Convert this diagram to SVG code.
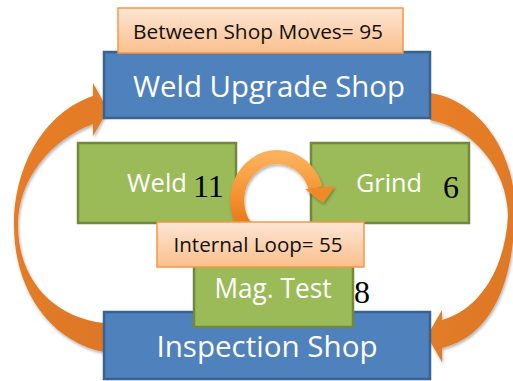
<svg xmlns="http://www.w3.org/2000/svg" width="513" height="381" viewBox="0 0 513 381">
<style>
.blue{fill:#4f81bd;stroke:#3a6290;stroke-width:2.5}
.green{fill:#9bbb59;stroke:#71893f;stroke-width:2.5}
.peach{fill:url(#peach);stroke:#f79646;stroke-width:1.5}
.wt{font-family:"Open Sans","Liberation Sans",sans-serif;fill:#ffffff}
.bt{font-family:"Open Sans","Liberation Sans",sans-serif;fill:#111111;font-size:20px}
.num{font-family:"Liberation Serif","Times New Roman",serif;fill:#000000;font-size:32px}
.arc{fill:url(#org)}
</style>
<defs>
<linearGradient id="peach" x1="0" y1="0" x2="0" y2="1">
<stop offset="0" stop-color="#fde6d4"/>
<stop offset="1" stop-color="#fbbf8c"/>
</linearGradient>
<linearGradient id="org" x1="0" y1="0" x2="1" y2="1">
<stop offset="0" stop-color="#e97f26"/>
<stop offset="1" stop-color="#dc7726"/>
</linearGradient>
<linearGradient id="ring" x1="0" y1="0" x2="0" y2="1">
<stop offset="0" stop-color="#fbb05a"/>
<stop offset="0.5" stop-color="#f5912e"/>
<stop offset="1" stop-color="#e06d12"/>
</linearGradient>
<filter id="sh" x="-10%" y="-10%" width="120%" height="130%">
<feDropShadow dx="1" dy="2" stdDeviation="1.5" flood-color="#000" flood-opacity="0.3"/>
</filter>
</defs>
<g id="connectors">
<path class="arc" filter="url(#sh)" d="M104,352 C52,342 14,292 14,225 C14,165 45,112 93,96 L93,83 L108,110 L93,136 L93,124 C50,140 18,180 18,225 C18,282 56,318 104,323 Z"/>
<path class="arc" filter="url(#sh)" d="M430,93 C478,100 515,150 515,210 C514,282 492,336 442,348 L442,362 L427,336 L442,310 L442,320 C484,308 506,262 508,215 C507,170 474,128 430,120 Z"/>
</g>
<g id="inspection-shop">
<rect class="blue" x="104" y="312" width="326" height="67"/>
<text class="wt" x="267" y="357" font-size="29" text-anchor="middle" textLength="221" lengthAdjust="spacingAndGlyphs">Inspection Shop</text>
</g>
<g id="weld-upgrade-shop">
<rect class="blue" x="104" y="52" width="326" height="66"/>
<text class="wt" x="269" y="97" font-size="29" text-anchor="middle" textLength="272" lengthAdjust="spacingAndGlyphs">Weld Upgrade Shop</text>
</g>
<g id="between-shop-moves">
<rect class="peach" x="118" y="8" width="285" height="45"/>
<text class="bt" x="258" y="39" text-anchor="middle" textLength="250" lengthAdjust="spacingAndGlyphs">Between Shop Moves= 95</text>
</g>
<g id="weld">
<rect class="green" x="78" y="143" width="158" height="80"/>
<text class="wt" x="157" y="192" font-size="25" text-anchor="middle" textLength="60" lengthAdjust="spacingAndGlyphs">Weld</text>
<text class="num" x="193" y="197">11</text>
</g>
<g id="grind">
<rect class="green" x="311" y="143" width="158" height="80"/>
<text class="wt" x="389" y="192" font-size="25" text-anchor="middle" textLength="66" lengthAdjust="spacingAndGlyphs">Grind</text>
<text class="num" x="443" y="198">6</text>
</g>
<g id="internal-loop-arrow">
<path d="M254,236 A40,43.5 0 1 1 315.5,188" fill="none" stroke="url(#ring)" stroke-width="14" filter="url(#sh)"/>
<path d="M305,189 L335,186 L323,203 Z" fill="#f08a26" filter="url(#sh)"/>
</g>
<g id="mag-test">
<rect class="green" x="194" y="262" width="159" height="65"/>
<text class="wt" x="273" y="298" font-size="28" text-anchor="middle" textLength="117" lengthAdjust="spacingAndGlyphs">Mag. Test</text>
<text class="num" x="354" y="303">8</text>
</g>
<g id="internal-loop">
<rect class="peach" x="157" y="222" width="207" height="45"/>
<text class="bt" x="258" y="252" text-anchor="middle" textLength="169" lengthAdjust="spacingAndGlyphs">Internal Loop= 55</text>
</g>
</svg>
